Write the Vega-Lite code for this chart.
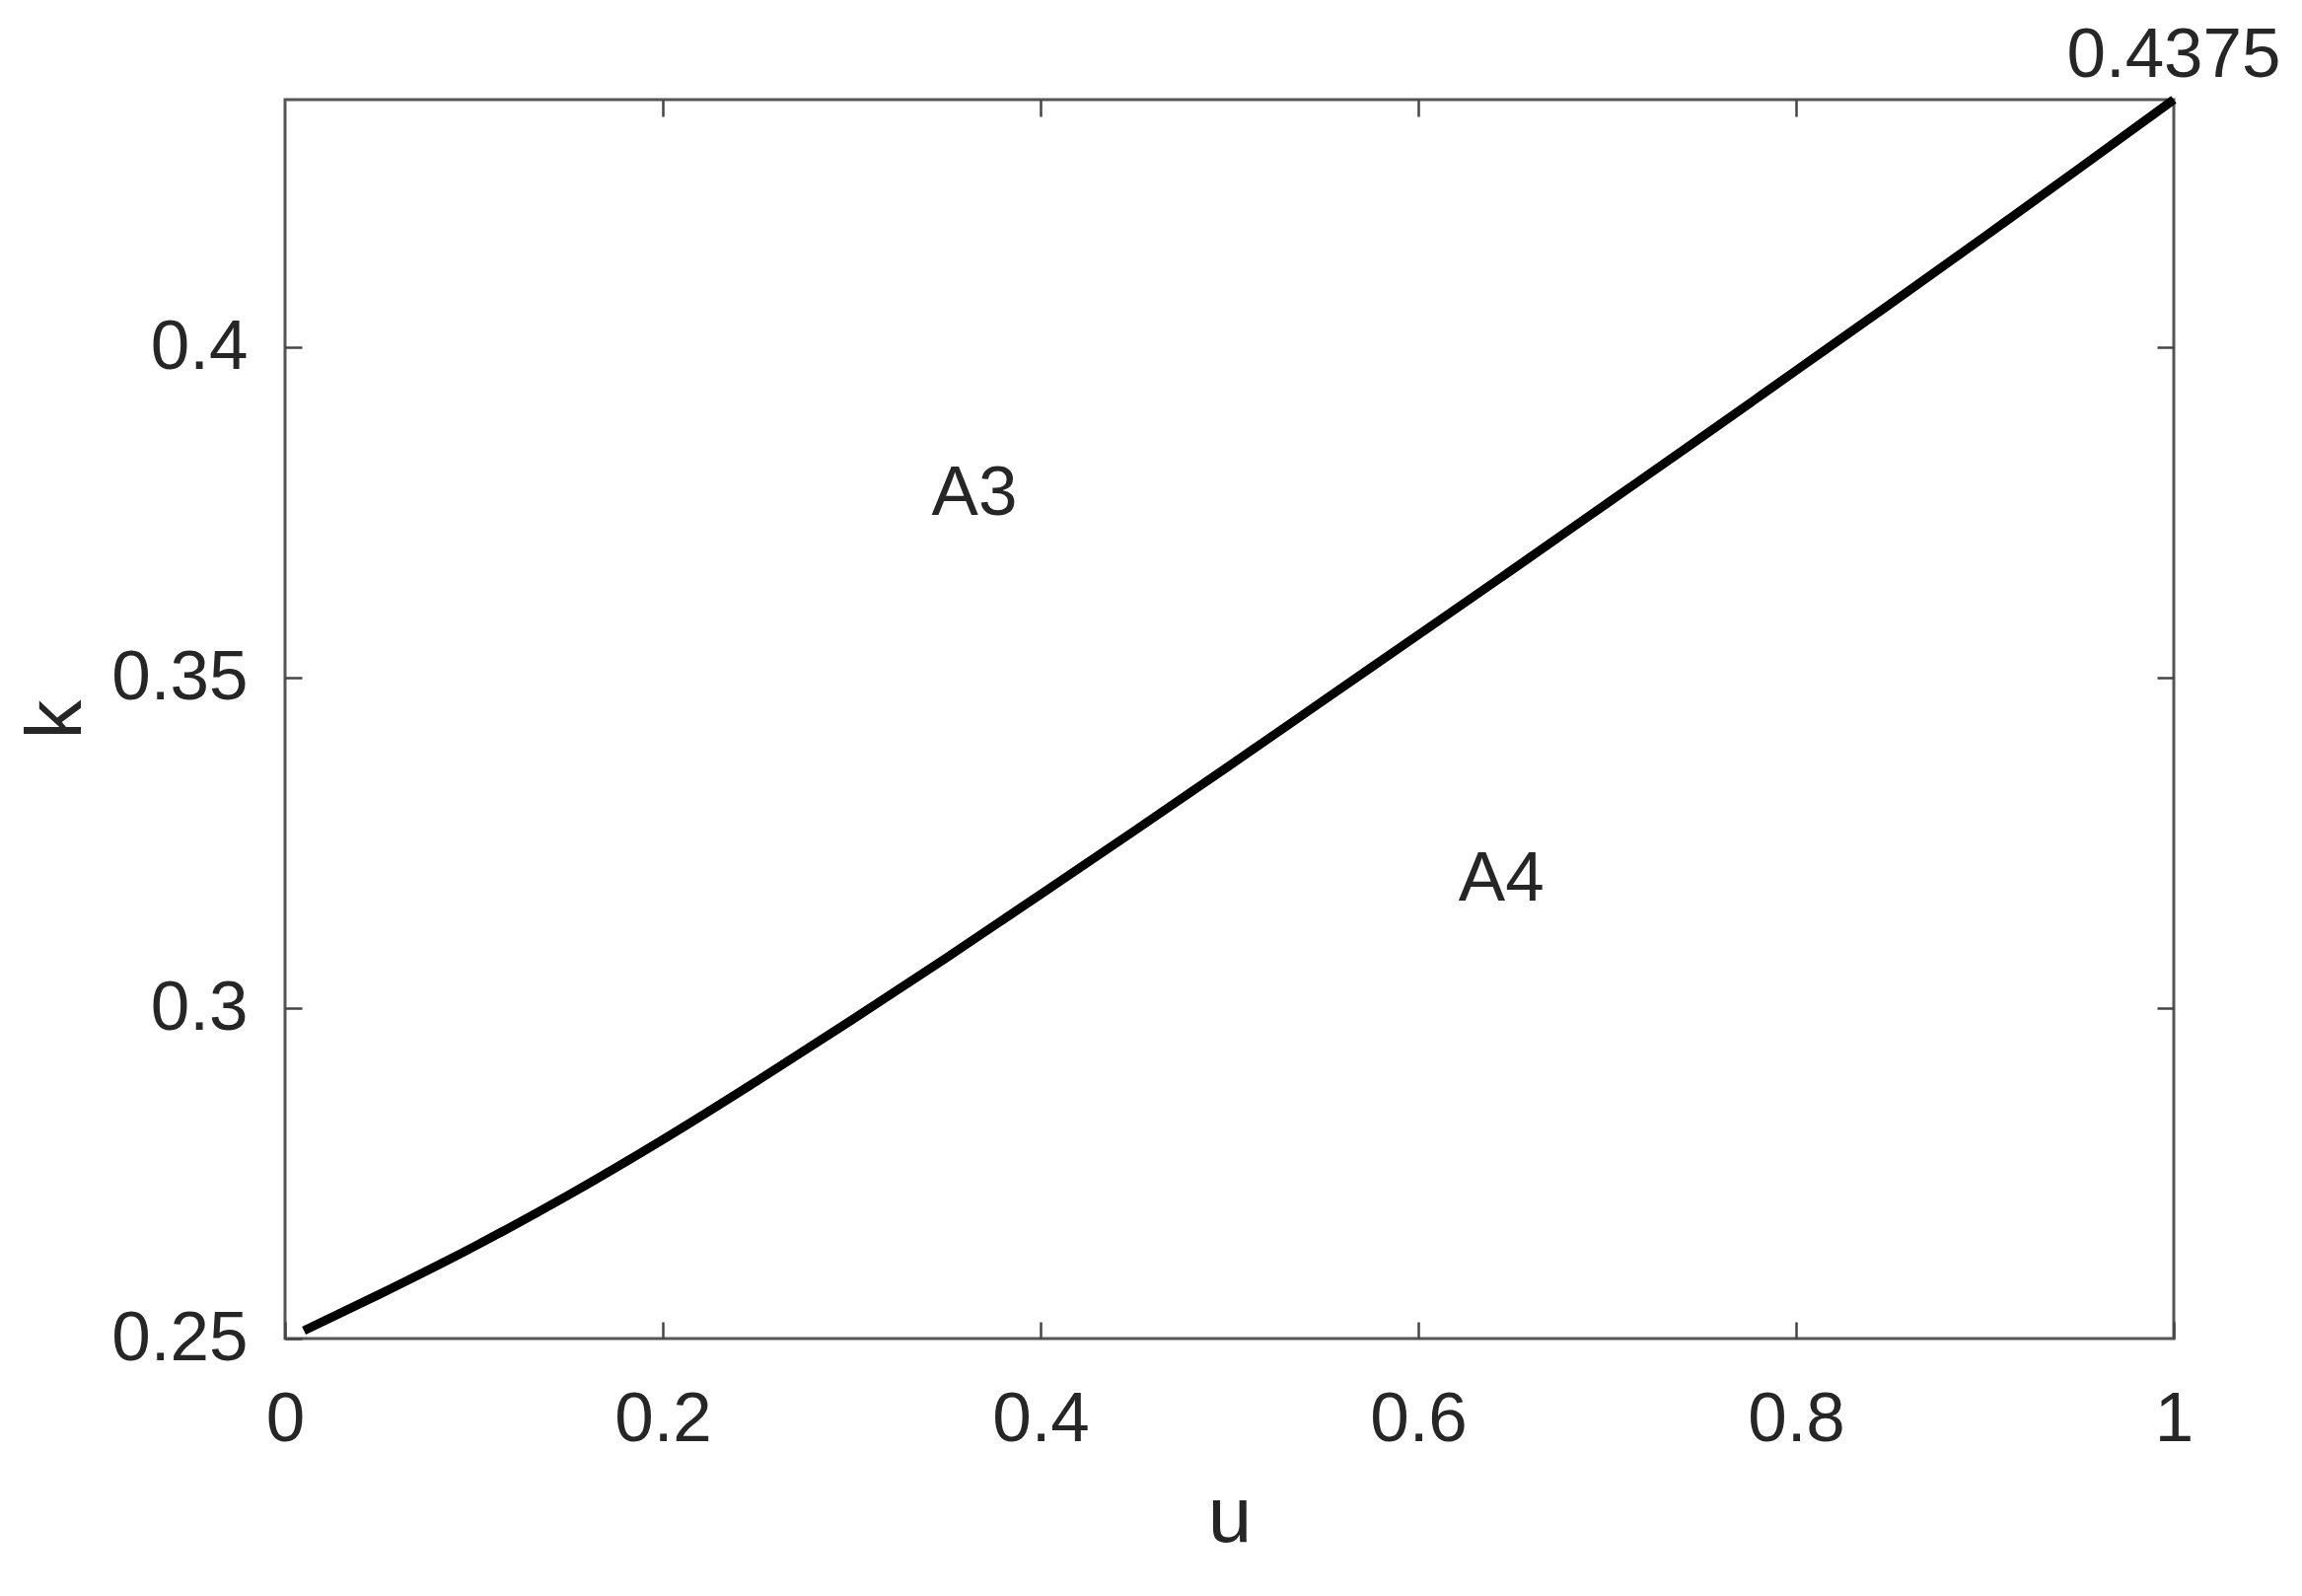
{
  "$schema": "https://vega.github.io/schema/vega-lite/v6.json",
  "width": 1915,
  "height": 1256,
  "autosize": {"type": "none"},
  "padding": {"left": 289, "top": 101, "right": 130, "bottom": 261},
  "background": "white",
  "config": {
    "view": {"stroke": "#555555", "strokeWidth": 3},
    "axis": {
      "grid": false,
      "domain": false,
      "tickSize": -17,
      "tickColor": "#444444",
      "tickWidth": 2.5,
      "labelFont": "Liberation Sans",
      "labelFontSize": 71,
      "labelColor": "#262626",
      "labelOverlap": false,
      "labelFlush": false,
      "titleFont": "Liberation Sans",
      "titleFontSize": 80,
      "titleFontWeight": "normal",
      "titleColor": "#262626"
    },
    "text": {"font": "Liberation Sans", "fontSize": 71, "color": "#262626"}
  },
  "datasets": {
    "curve": [
      {"u": 0.01, "k": 0.2512},
      {"u": 0.05, "k": 0.2567},
      {"u": 0.10, "k": 0.2639},
      {"u": 0.15, "k": 0.2717},
      {"u": 0.20, "k": 0.2801},
      {"u": 0.25, "k": 0.2890},
      {"u": 0.30, "k": 0.2982},
      {"u": 0.35, "k": 0.3076},
      {"u": 0.40, "k": 0.3172},
      {"u": 0.45, "k": 0.3269},
      {"u": 0.50, "k": 0.3367},
      {"u": 0.55, "k": 0.3466},
      {"u": 0.60, "k": 0.3565},
      {"u": 0.65, "k": 0.3664},
      {"u": 0.70, "k": 0.3764},
      {"u": 0.75, "k": 0.3864},
      {"u": 0.80, "k": 0.3965},
      {"u": 0.85, "k": 0.4066},
      {"u": 0.90, "k": 0.4168},
      {"u": 0.95, "k": 0.4271},
      {"u": 1.00, "k": 0.4375}
    ],
    "regions": [
      {"u": 0.365, "k": 0.3747, "label": "A3"},
      {"u": 0.644, "k": 0.3163, "label": "A4"}
    ],
    "endpoint": [
      {"u": 1.0, "k": 0.4375, "label": "0.4375"}
    ]
  },
  "resolve": {"axis": {"x": "independent", "y": "independent"}},
  "layer": [
    {
      "data": {"name": "curve"},
      "mark": {"type": "line", "color": "black", "strokeWidth": 9, "strokeCap": "butt", "interpolate": "monotone"},
      "encoding": {
        "x": {"field": "u", "type": "quantitative",
              "scale": {"domain": [0, 1], "nice": false, "zero": false},
              "axis": {"orient": "bottom", "title": "u", "values": [0, 0.2, 0.4, 0.6, 0.8, 1], "format": "~g", "labelPadding": 64, "titlePadding": 25}},
        "y": {"field": "k", "type": "quantitative",
              "scale": {"domain": [0.25, 0.4375], "nice": false, "zero": false},
              "axis": {"orient": "left", "title": "k", "values": [0.25, 0.3, 0.35, 0.4], "format": "~g", "labelPadding": 55, "titlePadding": 14}}
      }
    },
    {
      "data": {"name": "regions"},
      "mark": {"type": "text", "align": "center", "baseline": "alphabetic"},
      "encoding": {
        "x": {"field": "u", "type": "quantitative", "axis": null},
        "y": {"field": "k", "type": "quantitative", "axis": null},
        "text": {"field": "label"}
      }
    },
    {
      "data": {"name": "endpoint"},
      "mark": {"type": "text", "align": "center", "baseline": "alphabetic", "dy": -23},
      "encoding": {
        "x": {"field": "u", "type": "quantitative",
              "axis": {"orient": "top", "title": null, "labels": false, "values": [0.2, 0.4, 0.6, 0.8]}},
        "y": {"field": "k", "type": "quantitative",
              "axis": {"orient": "right", "title": null, "labels": false, "values": [0.3, 0.35, 0.4]}},
        "text": {"field": "label"}
      }
    }
  ]
}
